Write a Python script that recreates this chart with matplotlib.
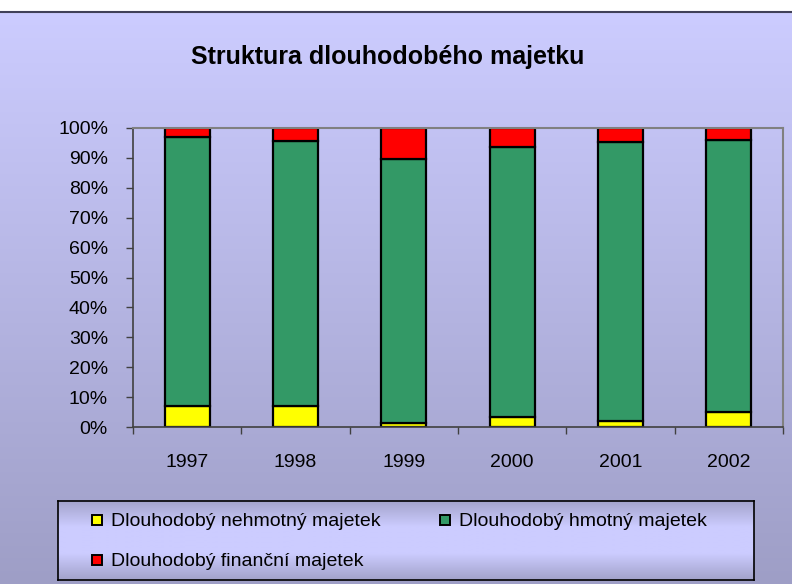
import matplotlib
matplotlib.use("Agg")
import matplotlib.pyplot as plt
import numpy as np
from matplotlib.colors import LinearSegmentedColormap
from matplotlib.lines import Line2D
from matplotlib.ticker import FixedLocator, PercentFormatter

plt.rcParams['font.family'] = ['Liberation Sans', 'DejaVu Sans']

years = ['1997', '1998', '1999', '2000', '2001', '2002']
# shares in percent
nehmotny = [7.1, 7.0, 1.4, 3.2, 2.1, 4.9]
hmotny = [89.8, 88.7, 88.1, 90.5, 93.1, 91.2]
financni = [3.1, 4.3, 10.5, 6.3, 4.8, 3.9]
labels = ['Dlouhodobý nehmotný majetek', 'Dlouhodobý hmotný majetek',
          'Dlouhodobý finanční majetek']
colors = ['#ffff00', '#339966', '#ff0000']

W, H = 792, 584
fig = plt.figure(figsize=(W / 100, H / 100), dpi=100)
fig.patch.set_facecolor('white')

# chart area background, vertical gradient
bg_top = 1 - 12 / H
bg = fig.add_axes([0, 0, 1, bg_top], zorder=0)
grad = LinearSegmentedColormap.from_list('bg', ['#9e9ec6', '#ccccff'])
bg.imshow(np.linspace(0, 1, 256)[:, None], aspect='auto', cmap=grad,
          origin='lower', extent=[0, 1, 0, 1])
bg.set_axis_off()
fig.add_artist(Line2D([0, 1], [bg_top, bg_top], color='#404058', lw=1.5,
                      transform=fig.transFigure))

fig.text(0.49, 1 - 57 / H, 'Struktura dlouhodobého majetku', ha='center',
         va='center', fontsize=18, fontweight='bold')

ax = fig.add_axes([133 / W, 1 - 427 / H, 650 / W, 299 / H], zorder=2)
ax.set_facecolor('none')
x = np.arange(len(years))
bottom = np.zeros(len(years))
for vals, col, lab in zip([nehmotny, hmotny, financni], colors, labels):
    ax.bar(x, vals, 0.415, bottom=bottom, color=col, edgecolor='black',
           linewidth=1.6, label=lab)
    bottom += np.array(vals)

ax.set_xlim(-0.5, len(years) - 0.5)
ax.set_ylim(0, 100)
ax.set_yticks(np.arange(0, 101, 10))
ax.yaxis.set_major_formatter(PercentFormatter(decimals=0))
ax.set_xticks(x)
ax.set_xticklabels(years)
ax.xaxis.set_minor_locator(FixedLocator(np.arange(-0.5, len(years), 1)))
ax.tick_params(axis='x', which='major', length=0, pad=19.5, labelsize=14)
ax.tick_params(axis='x', which='minor', length=5, width=1, color='#404040',
               direction='out')
ax.tick_params(axis='y', length=5, width=1, color='#404040', direction='out',
               pad=13, labelsize=14)
for side in ['left', 'bottom']:
    ax.spines[side].set_color('#404040')
    ax.spines[side].set_linewidth(1.2)
for side in ['top', 'right']:
    ax.spines[side].set_color('#808080')
    ax.spines[side].set_linewidth(1.5)

# legend box with its own gradient
lax = fig.add_axes([58 / W, 1 - 580 / H, 696 / W, 79 / H], zorder=3)
lgrad = LinearSegmentedColormap.from_list(
    'lg', ['#a2a2ca', '#ccccff', '#ccccff', '#a2a2ca'])
lax.imshow(np.linspace(0, 1, 256)[:, None], aspect='auto', cmap=lgrad,
           origin='lower', extent=[0, 1, 0, 1])
lax.set_xticks([])
lax.set_yticks([])
for s in lax.spines.values():
    s.set_color('black')
    s.set_linewidth(1.2)

handles = [Line2D([], [], ls='none', marker='s', markersize=7,
                  markerfacecolor=c, markeredgecolor='black',
                  markeredgewidth=1.4) for c in colors]
order = [0, 2, 1]
lax.legend([handles[i] for i in order], [labels[i] for i in order],
           ncol=2, loc='upper left', bbox_to_anchor=(0.047, 0.85),
           frameon=False, fontsize=14, handlelength=0.6,
           handletextpad=0.43, columnspacing=3.0, labelspacing=1.15,
           borderaxespad=0, borderpad=0)

fig.savefig('out.png', dpi=100)
